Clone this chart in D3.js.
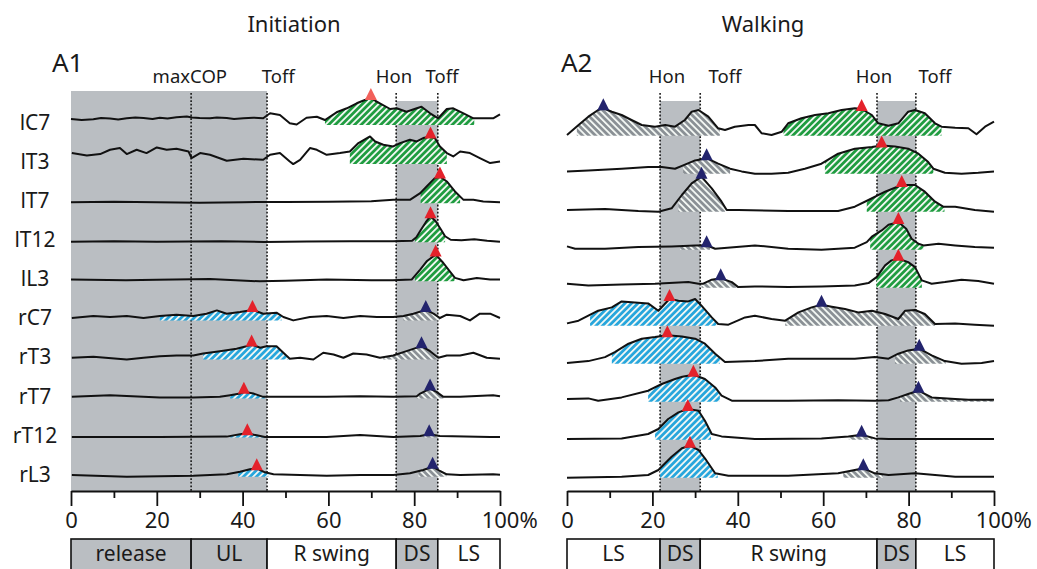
<!DOCTYPE html>
<html>
<head>
<meta charset="utf-8">
<script src="https://cdn.jsdelivr.net/npm/d3@7"></script>
<style>
  body { margin: 0; background: #fff; }
  text { font-family: "Noto Sans", "DejaVu Sans", sans-serif; fill: #1a1a1a; }
</style>
</head>
<body>
<svg id="chart" width="1037" height="569"></svg>
<script>
// ---- shared categories and axis ticks ----
const muscles = ["lC7", "lT3", "lT7", "lT12", "lL3", "rC7", "rT3", "rT7", "rT12", "rL3"];
const majorTicks = [0, 20, 40, 60, 80, 100];
const minorTicks = [10, 30, 50, 70, 90];

// ---- Initiation: rectified EMG envelopes, [% of cycle, amplitude] ----
const iniLC7 = [[0,6],[2.5,5],[5.2,5.7],[7,7],[9.1,6.5],[11,5.5],[13,6.7],[15,7.5],[16.9,7],[19,6],[20.7,7.3],[22.5,6.5],[24.6,7.7],[27,8.5],[28.2,7.5],[30,7],[32.4,6.7],[34,7.5],[36.3,7],[38,6],[40.2,6.7],[42.5,7.3],[44.8,6.7],[46.4,11.7],[48.7,10],[51,1.7],[52.6,0.5],[54.9,7.3],[57.3,8.3],[59.2,5],[61.9,12.7],[64.3,16.7],[66.6,21.7],[68.5,25],[69.9,27],[71,24],[72,21.7],[74.4,16],[75.9,16.7],[78.2,13.3],[80.6,16.7],[81.7,18.3],[83.7,11.7],[85.6,6.7],[87.6,16],[89.1,16.7],[91.5,11.7],[93.8,6.7],[96.1,6.7],[98.4,6.7],[100,10.7]];
const iniLT3 = [[0.2,11],[3.7,8.6],[6.8,10],[9.1,14.3],[11.4,16],[13,10],[15.3,14.3],[17.6,11],[20,16.6],[22.3,14.3],[24.6,15.3],[27.4,12.6],[28.1,6],[30.1,11],[32.4,9.3],[36.3,3.3],[40.2,5.3],[44.8,4.3],[46.4,9.3],[48.7,11],[51,2.6],[51.8,0],[53.4,4.3],[55.7,16],[57.3,14.3],[59.6,9.3],[62.7,11],[65,12.6],[67,21],[69.7,27.6],[70.9,22.6],[72.8,19.3],[75.1,17.6],[76.7,21],[79,24.3],[80.6,22.6],[82.1,26],[83.8,27.6],[84.8,26],[86,17.6],[87.6,11],[89.1,7.6],[90.7,12.6],[93,11],[95.3,6],[97.7,1],[100,2.6]];
const iniLT7 = [[0,1],[10,1.5],[20,1],[30,0.5],[40,1],[50,1.2],[60,1.5],[70,2],[75.1,3.3],[79,3.3],[81.4,10],[82.9,16.7],[84.8,25],[86,26.7],[87.6,21.7],[89.5,11.7],[91.5,3.3],[93.8,3.3],[96.1,1.7],[100,1]];
const iniLT12 = [[0,0.5],[10,1],[20,0.5],[35,1],[45,0.3],[55,0.8],[65,1],[75,1],[79.5,1.5],[80.5,5],[81.5,12],[82.7,20],[83.8,26],[85,21],[86.2,13],[87.2,6],[88.5,2.5],[91,2],[94,3],[97,1.5],[100,0.5]];
const iniLL3 = [[0,1.7],[12.8,1],[20,1.5],[32.4,2.3],[44,0],[50,0.5],[59.6,1.7],[70,1],[75,1],[79.4,1.7],[81.4,11.7],[82.9,20],[85,26.7],[86.8,18.3],[88.3,10],[89.5,3.4],[91.5,1],[94.6,3.4],[97.7,1.7],[100,1.7]];
const iniRC7 = [[0.2,2.4],[5.2,4.4],[9.1,3.4],[13,4.4],[16.9,2.4],[20.7,4.4],[24.6,5.7],[28.5,4.4],[31.6,6.7],[34,10],[36.3,6.7],[39.4,8.4],[42.3,10.5],[44.8,6.7],[47.9,7.7],[49.5,3.4],[51.8,0],[55.7,3.4],[59.6,4.4],[63.5,2.4],[67.4,4.4],[71.3,3.4],[75.1,3.4],[77.5,4.4],[79.8,6.7],[82.7,10.5],[84.5,6.7],[86,2.4],[87.6,5.7],[90.7,4.4],[93,0],[95.3,6.7],[97.7,6.7],[100,2.4]];
const iniRT3 = [[0.2,1.7],[5.2,2.7],[13,0],[16.9,1.7],[20.7,3.3],[24.6,4],[28.5,4],[30.8,6],[34.7,8.3],[38.6,10.7],[40.9,13.3],[42.1,15],[44.1,11.7],[45.6,13.3],[47.9,13.3],[49.5,6.7],[51,0.7],[53.4,1.7],[56.5,0],[58.8,6.7],[61.2,5],[63.5,1.7],[65.8,6],[68.9,5],[72,1.7],[75.1,4],[78.2,8.3],[81.7,13.3],[83.7,8.3],[85.6,1.7],[87.6,4],[90.7,4],[93.8,6.7],[96.9,1.7],[100,0.7]];
const iniRT7 = [[0.2,1.7],[9.1,3.3],[20.7,1],[28.5,1],[34.7,1.7],[37.1,3.3],[39.4,5],[40.3,6.7],[42.5,5],[44.8,1.7],[47.9,1.7],[59.6,1.7],[67.4,2.3],[75.1,1.7],[80.6,2.3],[81.4,5],[83.7,10],[85.2,6.7],[86.8,1.7],[90.7,1.7],[98.4,3.3],[100,2.3]];
const iniRT12 = [[0.2,0.6],[20.7,0.6],[36.3,1],[39.4,3.3],[41.1,4.3],[43.3,2.3],[45.2,0.6],[59.6,0.6],[67.4,2.6],[75.1,0.6],[81.4,1.6],[83.5,3.3],[86,1.6],[97.7,0.6],[100,0.6]];
const iniRL3 = [[0.2,1.7],[13,0],[28.5,1],[36.3,2.4],[39.4,5],[41.7,7.4],[43.3,8.4],[45.2,4.4],[47.2,2.4],[59.6,1],[67.4,1.7],[75.1,1.7],[79,3.4],[82.1,6.7],[84.3,10],[86,5.7],[87.6,2.4],[90.7,1.7],[98.4,2.4],[100,2]];

// ---- Walking ----
const walLC7 = [[0,0.7],[2.7,10.7],[5,19],[7.3,25.7],[8.5,27.4],[10.5,24],[12.8,20.7],[15.1,15.7],[17.5,10.7],[20.6,9],[23,10.7],[25.3,9],[27.6,15.7],[29.2,24],[30.8,25.7],[33.1,19],[35.4,7.4],[37,5.7],[39.3,9],[42.5,10.7],[44,10.7],[45.6,2.4],[47.9,0.7],[50.3,4],[51.8,12.4],[54.9,17.4],[58.1,20.7],[61.2,22.4],[64.3,25.7],[67.4,27.4],[69,26.7],[71.4,20.7],[72.9,12.4],[75.3,10],[77.6,12.4],[79.9,24],[81.5,25.7],[83.8,22.4],[86.2,12.4],[87.7,9],[90.9,8],[94,7.4],[95.9,1.4],[97.9,9],[100,14]];
const walLT3 = [[0,2.3],[5,3.3],[12.8,5],[19,6.6],[22.2,6.6],[25.3,5],[27.2,8.3],[30,13.3],[32.7,15.5],[35.4,10],[38.2,5],[40.9,2.3],[44,0],[47.9,0],[51.8,1],[55.7,5],[59.6,10],[63.5,20],[67.4,25],[71.4,26.6],[73.7,28.3],[76.8,27.3],[79.9,25],[82.3,20],[84.6,11.6],[85.8,5],[88.5,1],[92.4,0],[96.3,1],[100,2.3]];
const walLT7 = [[0,1.7],[8.9,2.7],[16.7,0.7],[21.4,0],[24.5,3.4],[26.9,16.7],[29.2,28.4],[31.5,35],[33.9,23.4],[36.2,10],[37.4,1.7],[40.1,1.7],[51.8,0.7],[63.5,0.7],[67.4,5],[70.6,11.7],[74.5,20],[78.4,26.7],[81.5,26.7],[83.8,20],[86.2,10],[88.1,5],[90.9,5],[95.5,1.7],[100,0]];
const walLT12 = [[0,3.3],[1.9,1],[8.9,1],[16.7,2.6],[24.5,3.3],[30,4.3],[32.7,4.5],[34.7,1],[44,4.3],[51.8,1],[59.6,0],[67.4,2],[70.2,7.6],[71.4,13],[73.7,19.3],[75.3,25],[77.6,27.6],[79.5,20.6],[80.7,11],[82.3,6],[83.5,4.3],[87,6],[90.9,4.3],[95.5,2.6],[100,2]];
const walLL3 = [[0,4],[5,2.3],[12.8,3.3],[20.6,4],[28.4,5.6],[30.8,4],[31.9,4],[33.9,8],[36,9.5],[38.6,5.6],[40.1,0.6],[44,1.3],[51.8,0.6],[59.6,1.3],[67.4,2.3],[70.6,4.6],[72.5,10.6],[74.5,22.3],[76,27.3],[77.6,29],[79.9,25.6],[81.5,20.6],[83.1,7.3],[85.4,4],[88.5,5.6],[92.4,8],[96.3,6.6],[100,4]];
const walRC7 = [[0,2.3],[2.7,5],[5,10],[7.3,15],[10.5,18.3],[12.8,24.3],[15.9,23.3],[19,22.3],[21.4,15],[24,26.7],[26.1,25],[28.4,24.3],[30,26.7],[31.5,20],[33.9,8.3],[35.4,1.7],[37.8,1],[41.7,8.3],[44,10],[47.9,6.7],[51.1,5],[54.2,13.3],[57.3,18.3],[59.6,21],[62,19],[65.1,16.7],[68.2,13.3],[71.4,15],[74.5,11.7],[77.6,6.7],[79.2,15],[81.5,15.7],[83.8,11.7],[86.2,1.7],[90.9,2.3],[95.5,1],[100,0]];
const walRT3 = [[0,0.6],[5,2.6],[8.9,6.6],[11.2,11.6],[14.4,20],[17.5,25],[20.6,26.6],[23.5,28.5],[26.9,27.3],[30,25],[32.3,20],[34.7,10],[37,1.6],[44,2.6],[51.8,5],[59.6,5],[67.4,5],[72.1,6.6],[75.3,5],[77.6,10],[79.9,13.3],[82.5,15],[85.4,8.3],[88.5,2.6],[92.4,0],[97.1,0.6],[100,2.6]];
const walRT7 = [[0,2.7],[5,3.3],[7.3,1],[12.8,4.3],[19,11],[22.2,17.7],[25.3,22.7],[27,25],[29.6,27],[32.3,22.7],[34.7,14.3],[36.2,6],[38.6,1],[51.8,1],[63.5,1.5],[72.1,1],[75.3,1.5],[77.6,4.3],[79.9,7.7],[82.3,11],[85.4,4.3],[90.9,2.7],[94,2],[100,2]];
const walRT12 = [[0,0.7],[12.8,1.3],[19,5.7],[21.4,10.7],[23.7,20.7],[26.1,27.3],[28.3,30.7],[30.8,29],[32.3,19],[33.9,5.7],[36.2,3.3],[44,0.7],[59.6,1.3],[65.9,3.3],[69,5],[72.1,1.3],[75.3,0.7],[83.1,0.7],[90.9,0.7],[100,0.7]];
const walRL3 = [[0,0],[12.8,1],[19,2.7],[21.4,7.7],[24.5,21],[26.9,29.4],[28.8,32],[30.8,27.7],[32.3,19.4],[34.7,4.4],[37.8,2],[51.8,2],[63.5,4.4],[67.4,7.7],[69.4,9.4],[72.1,4.4],[75.3,2.7],[81.5,4.4],[90.9,1],[100,1]];

// ---- activation bursts: [row, start %, end %, fill, peak %, marker] ----
const iniBursts = [
  [0, 59.2, 94.0, "green", 69.9, "pink"],
  [1, 65.0, 87.6, "green", 83.8, "red"],
  [2, 81.5, 90.7, "green", 86.0, "red"],
  [3, 80.2, 87.2, "green", 83.8, "red"],
  [4, 80.2, 89.4, "green", 85.0, "red"],
  [5, 20.7, 49.1, "blue", 42.3, "red"],
  [5, 77.5, 86.0, "gray", 82.7, "navy"],
  [6, 30.8, 50.7, "blue", 42.1, "red"],
  [6, 72.8, 85.6, "gray", 81.7, "navy"],
  [7, 37.1, 45.2, "blue", 40.3, "red"],
  [7, 80.6, 86.8, "gray", 83.7, "navy"],
  [8, 37.1, 45.2, "blue", 41.1, "red"],
  [8, 82.2, 85.5, "gray", 83.5, "navy"],
  [9, 39.0, 46.0, "blue", 43.3, "red"],
  [9, 81.0, 87.5, "gray", 84.3, "navy"]
];
const walBursts = [
  [0, 2.3, 35.8, "gray", 8.5, "navy"],
  [0, 50.7, 87.7, "green", 69.0, "red"],
  [1, 27.2, 38.2, "gray", 32.7, "navy"],
  [1, 60.4, 85.8, "green", 73.7, "red"],
  [2, 26.1, 37.0, "gray", 31.5, "navy"],
  [2, 70.2, 88.4, "green", 78.4, "red"],
  [3, 26.5, 33.5, "gray", 32.7, "navy"],
  [3, 71.0, 83.5, "green", 77.6, "red"],
  [4, 31.5, 39.7, "gray", 36.0, "navy"],
  [4, 72.5, 83.1, "green", 77.6, "red"],
  [5, 5.4, 35.0, "blue", 24.0, "red"],
  [5, 51.1, 86.2, "gray", 59.6, "navy"],
  [6, 10.5, 35.8, "blue", 23.5, "red"],
  [6, 76.8, 88.7, "gray", 82.5, "navy"],
  [7, 19.0, 35.8, "blue", 29.6, "red"],
  [7, 78.0, 100, "gray", 82.3, "navy"],
  [8, 20.6, 33.7, "blue", 28.3, "red"],
  [8, 66.0, 71.5, "gray", 69.0, "navy"],
  [9, 21.8, 35.3, "blue", 28.8, "red"],
  [9, 64.7, 74.0, "gray", 69.4, "navy"]
];

// ---- gait events, shaded support periods, phase bar ----
const iniEventPct = [28, 45.7, 75.8, 85.5];
const iniEventLabels = ["maxCOP", "Toff", "Hon", "Toff"];
const iniEventLabelPct = [27.7, 48.3, 75.3, 86.5];
const iniShades = [[0, 45.7, "tall"], [75.8, 85.5, "short"]];
const iniPhaseNames = ["release", "UL", "R swing", "DS", "LS"];
const iniPhaseBounds = [0, 28, 45.7, 75.8, 85.5, 100];
const iniPhaseShaded = [true, true, false, true, false];

const walEventPct = [21.8, 31.2, 72.6, 81.7];
const walEventLabels = ["Hon", "Toff", "Hon", "Toff"];
const walEventLabelPct = [23.4, 37.0, 71.9, 86.2];
const walShades = [[21.8, 31.2, "short"], [72.6, 81.7, "short"]];
const walPhaseNames = ["LS", "DS", "R swing", "DS", "LS"];
const walPhaseBounds = [0, 21.8, 31.2, 72.6, 81.7, 100];
const walPhaseShaded = [false, true, false, true, false];

// ---- drawing ----
const svg = d3.select("#chart");
const defs = svg.append("defs");
const shadeColor = "#babec2";
const markerColors = { red: "#e4222b", pink: "#f2605a", navy: "#23246d" };

function hatch(id, color, angle) {
  const s = 4.6;
  const p = defs.append("pattern").attr("id", id)
    .attr("patternUnits", "userSpaceOnUse")
    .attr("width", s).attr("height", s)
    .attr("patternTransform", `rotate(${angle})`);
  p.append("rect").attr("width", s).attr("height", s).attr("fill", color);
  p.append("rect").attr("width", 1.8).attr("height", s).attr("fill", "#f4f8f4");
}
hatch("hatch-green", "#1f9c40", 45);
hatch("hatch-blue", "#27a6dc", 45);
hatch("hatch-gray", "#8a9095", -45);

const amp = d3.scaleLinear().domain([0, 10]).range([0, 10]);

function ampAt(trace, p) {
  for (let i = 1; i < trace.length; i++) {
    if (p <= trace[i][0]) {
      const [x0, y0] = trace[i - 1], [x1, y1] = trace[i];
      const t = x1 === x0 ? 0 : (p - x0) / (x1 - x0);
      return y0 + t * (y1 - y0);
    }
  }
  return trace[trace.length - 1][1];
}

function drawPanel(cfg) {
  const g = svg.append("g");
  const x = d3.scaleLinear().domain([0, 100]).range(cfg.xRange);
  const row = d3.scalePoint().domain(muscles).range(cfg.rowRange);
  const axisY = 491;

  // shaded support periods
  g.selectAll("rect.shade").data(cfg.shades).join("rect")
    .attr("class", "shade")
    .attr("x", d => x(d[0])).attr("width", d => x(d[1]) - x(d[0]))
    .attr("y", d => d[2] === "tall" ? 91 : 101)
    .attr("height", d => axisY - (d[2] === "tall" ? 91 : 101))
    .attr("fill", shadeColor);

  // event lines
  g.selectAll("line.event").data(cfg.eventPct).join("line")
    .attr("x1", d => x(d)).attr("x2", d => x(d))
    .attr("y1", 93).attr("y2", axisY)
    .attr("stroke", "#1a1a1a").attr("stroke-width", 1.6)
    .attr("stroke-dasharray", "1.8,1.8");

  g.selectAll("text.event").data(cfg.eventLabels).join("text")
    .attr("x", (d, i) => x(cfg.eventLabelPct[i])).attr("y", 83)
    .attr("text-anchor", "middle").attr("font-size", 18.5).text(d => d);

  const yOf = (r, a) => row(muscles[r]) - amp(a);

  // hatched bursts
  const area = d3.area().x(d => x(d[0])).y1(d => d[1]).y0(d => d[2]);
  cfg.bursts.forEach(b => {
    const [r, s, e, fill] = b;
    const tr = cfg.traces[r];
    const pts = [[s, ampAt(tr, s)], ...tr.filter(p => p[0] > s && p[0] < e), [e, ampAt(tr, e)]];
    const base = row(muscles[r]);
    g.append("path")
      .datum(pts.map(p => [p[0], yOf(r, p[1]), base]))
      .attr("d", area)
      .attr("fill", `url(#hatch-${fill})`);
  });

  // envelopes
  const line = d3.line().x(d => x(d[0])).y(d => d[1]);
  cfg.traces.forEach((tr, r) => {
    g.append("path")
      .datum(tr.map(p => [p[0], yOf(r, p[1])]))
      .attr("d", line)
      .attr("fill", "none").attr("stroke", "#111")
      .attr("stroke-width", 2).attr("stroke-linejoin", "round");
  });

  // peak markers
  cfg.bursts.forEach(b => {
    const [r, , , , pk, mk] = b;
    const px = x(pk), py = yOf(r, ampAt(cfg.traces[r], pk)) + 2;
    g.append("path")
      .attr("d", `M${px - 6},${py} L${px + 6},${py} L${px},${py - 12} Z`)
      .attr("fill", markerColors[mk]);
  });

  // row labels
  if (cfg.rowLabels) {
    g.selectAll("text.row").data(muscles).join("text")
      .attr("x", 35).attr("y", d => row(d) + 5)
      .attr("text-anchor", "middle").attr("font-size", 21).text(d => d);
  }

  // axis
  const ax = g.append("g").attr("transform", `translate(0,${axisY})`)
    .call(d3.axisBottom(x).tickValues(majorTicks).tickSize(15).tickSizeOuter(0));
  ax.select(".domain").attr("stroke", "#111").attr("stroke-width", 1.8);
  ax.selectAll(".tick line").attr("stroke", "#111").attr("stroke-width", 1.8);
  ax.selectAll(".tick text")
    .attr("y", 36.5).attr("dy", 0)
    .attr("font-size", 22).attr("font-family", "Noto Sans").attr("fill", "#1a1a1a")
    .each(function (d) {
      if (d === 100) {
        const t = d3.select(this).text("100");
        const w = this.getComputedTextLength();
        t.attr("text-anchor", "start").attr("x", -w / 2).text("100%");
      }
    });
  const minor = g.append("g").attr("transform", `translate(0,${axisY})`)
    .call(d3.axisBottom(x).tickValues(minorTicks).tickSize(7).tickSizeOuter(0).tickFormat(""));
  minor.select(".domain").remove();
  minor.selectAll(".tick line").attr("stroke", "#111").attr("stroke-width", 1.8);

  // phase bar
  const phases = cfg.phaseNames.map((n, i) => ({ n, a: cfg.phaseBounds[i], b: cfg.phaseBounds[i + 1], s: cfg.phaseShaded[i] }));
  const bar = g.append("g");
  bar.selectAll("rect").data(phases).join("rect")
    .attr("x", d => x(d.a)).attr("width", d => x(d.b) - x(d.a))
    .attr("y", 539).attr("height", 50)
    .attr("fill", d => d.s ? shadeColor : "#fff")
    .attr("stroke", "#111").attr("stroke-width", 1.6);
  bar.selectAll("text").data(phases).join("text")
    .attr("x", d => (x(d.a) + x(d.b)) / 2).attr("y", 561)
    .attr("text-anchor", "middle").attr("font-size", 21).text(d => d.n);

  // titles
  svg.append("text").attr("x", cfg.titleX).attr("y", 32)
    .attr("text-anchor", "middle").attr("font-size", 22).text(cfg.title);
  svg.append("text").attr("x", cfg.tagX).attr("y", 72)
    .attr("font-size", 26).text(cfg.tag);
}

drawPanel({
  title: "Initiation", titleX: 294, tag: "A1", tagX: 52,
  xRange: [71, 500], rowRange: [125, 476.7], rowLabels: true,
  traces: [iniLC7, iniLT3, iniLT7, iniLT12, iniLL3, iniRC7, iniRT3, iniRT7, iniRT12, iniRL3],
  bursts: iniBursts, shades: iniShades,
  eventPct: iniEventPct, eventLabels: iniEventLabels, eventLabelPct: iniEventLabelPct,
  phaseNames: iniPhaseNames, phaseBounds: iniPhaseBounds, phaseShaded: iniPhaseShaded
});

drawPanel({
  title: "Walking", titleX: 763, tag: "A2", tagX: 561,
  xRange: [567, 994], rowRange: [135.7, 477.7], rowLabels: false,
  traces: [walLC7, walLT3, walLT7, walLT12, walLL3, walRC7, walRT3, walRT7, walRT12, walRL3],
  bursts: walBursts, shades: walShades,
  eventPct: walEventPct, eventLabels: walEventLabels, eventLabelPct: walEventLabelPct,
  phaseNames: walPhaseNames, phaseBounds: walPhaseBounds, phaseShaded: walPhaseShaded
});
</script>
</body>
</html>
